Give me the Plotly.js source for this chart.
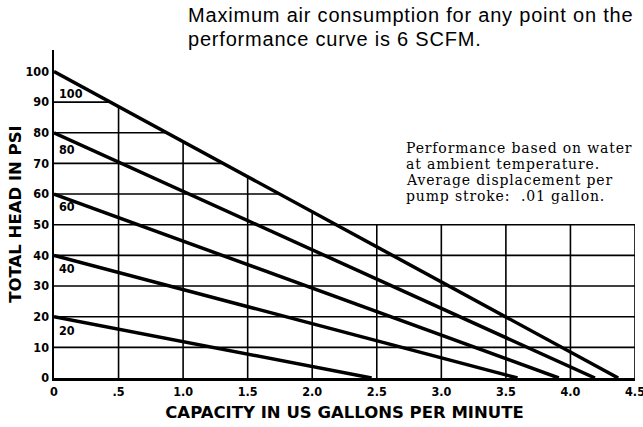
<!DOCTYPE html>
<html>
<head>
<meta charset="utf-8">
<script src="https://cdn.plot.ly/plotly-3.0.1.min.js"></script>
<style>html,body{margin:0;padding:0;background:#fff;}#chart{width:643px;height:427px;}</style>
</head>
<body>
<div id="chart"></div>
<script>
// ---- data ----
const xTickVals = [0, 0.5, 1.0, 1.5, 2.0, 2.5, 3.0, 3.5, 4.0, 4.5];
const xTickText = ["0", ".5", "1.0", "1.5", "2.0", "2.5", "3.0", "3.5", "4.0", "4.5"];
const yTickVals = [0, 10, 20, 30, 40, 50, 60, 70, 80, 90, 100];
const yTickText = ["0", "10", "20", "30", "40", "50", "60", "70", "80", "90", "100"];
const curveNames = ["20", "40", "60", "80", "100"];
const curveHeads = [20, 40, 60, 80, 100];          // total head at zero capacity (psi)
const curveMaxFlow = [2.46, 3.59, 3.91, 4.19, 4.37]; // capacity at zero head (gpm)
const gridBoxTop = 50;
const noteTop = ["Maximum air consumption for any point on the", "performance curve is 6 SCFM."];
const noteSide = ["Performance based on water", "at ambient temperature.", "Average displacement per", "pump stroke:  .01 gallon."];

// ---- layout geometry (pixels) ----
const W = 643, H = 427, M = {l: 54, r: 8, t: 50, b: 49};
const PW = W - M.l - M.r, PH = H - M.t - M.b;
const px = p => (p - M.l) / PW;          // pixel x -> paper
const py = p => (H - M.b - p) / PH;      // pixel y -> paper

// ---- build ----
const narrowBold = '"Liberation Sans Narrow", "DejaVu Sans Condensed", Arial, sans-serif';
const heavy = '"DejaVu Sans", Arial, sans-serif';
const traces = curveHeads.map((h, i) => ({
  type: 'scatter', mode: 'lines', name: curveNames[i],
  x: [0, curveMaxFlow[i]], y: [h, 0],
  line: {color: '#000', width: 3.5}, hoverinfo: 'skip', showlegend: false, cliponaxis: false
}));

// top curve, for clipping the partial grid
const topIdx = curveHeads.length - 1;
const topH = curveHeads[topIdx], topX = curveMaxFlow[topIdx];
const topAt = x => topH * (1 - x / topX);
const xAtTop = y => topX * (1 - y / topH);

const shapes = [];
const gl = {color: '#000', width: 1.6};
xTickVals.slice(1).forEach(xv => {
  shapes.push({type: 'line', xref: 'x', yref: 'y', x0: xv, x1: xv, y0: 0,
    y1: Math.max(topAt(xv), gridBoxTop), line: gl, layer: 'below'});
});
const xMax = xTickVals[xTickVals.length - 1];
yTickVals.slice(1, -1).forEach(yv => {
  shapes.push({type: 'line', xref: 'x', yref: 'y', x0: 0,
    x1: yv <= gridBoxTop ? xMax : xAtTop(yv), y0: yv, y1: yv, line: gl, layer: 'below'});
});

const labelOffsets = {20: 4.4, 40: 4.2, 60: 4.2, 80: 5.4, 100: 7.2};
const annotations = curveHeads.map((h, i) => ({
  x: 0.025, y: h - labelOffsets[h], xref: 'x', yref: 'y', xanchor: 'left', yanchor: 'middle',
  text: curveNames[i], showarrow: false,
  font: {family: narrowBold, size: 12.5, color: '#000', weight: 'bold'}
}));
noteTop.forEach((t, i) => annotations.push({
  xref: 'paper', yref: 'paper', x: px(186), y: py(15 + 24 * i), xanchor: 'left', yanchor: 'middle',
  showarrow: false, text: '<span style="letter-spacing:0.8px">' + t + '</span>',
  font: {family: '"Liberation Sans", Arial, sans-serif', size: 20, color: '#000'}
}));
noteSide.forEach((t, i) => annotations.push({
  xref: 'paper', yref: 'paper', x: px(404), y: py(148 + 16 * i), xanchor: 'left', yanchor: 'middle',
  showarrow: false, text: '<span style="letter-spacing:0.85px">' + t + '</span>',
  font: {family: '"DejaVu Serif", serif', size: 14, color: '#000'}
}));

const layout = {
  width: W, height: H,
  margin: M,
  paper_bgcolor: '#fff', plot_bgcolor: '#fff',
  showlegend: false,
  xaxis: {
    range: [0, 4.5], tickvals: xTickVals, ticktext: xTickText,
    showgrid: false, zeroline: false, showline: true, linecolor: '#000', linewidth: 2.5,
    ticks: '', ticklen: 0, ticklabeloverflow: 'allow',
    tickfont: {family: narrowBold, size: 12.5, color: '#000', weight: 'bold'},
    title: {text: 'CAPACITY IN US GALLONS PER MINUTE', standoff: 9,
      font: {family: heavy, size: 16.5, color: '#000', weight: 'bold'}},
    fixedrange: true
  },
  yaxis: {
    range: [0, 107], tickvals: yTickVals, ticktext: yTickText,
    showgrid: false, zeroline: false, showline: true, linecolor: '#000', linewidth: 2.5,
    ticks: '', ticklen: 0, ticklabeloverflow: 'allow',
    tickfont: {family: narrowBold, size: 12.5, color: '#000', weight: 'bold'},
    title: {text: 'TOTAL HEAD IN PSI', standoff: 0,
      font: {family: heavy, size: 16.5, color: '#000', weight: 'bold'}},
    fixedrange: true
  },
  shapes: shapes,
  annotations: annotations
};

Plotly.newPlot('chart', traces, layout, {displayModeBar: false, staticPlot: true});
</script>
</body>
</html>
